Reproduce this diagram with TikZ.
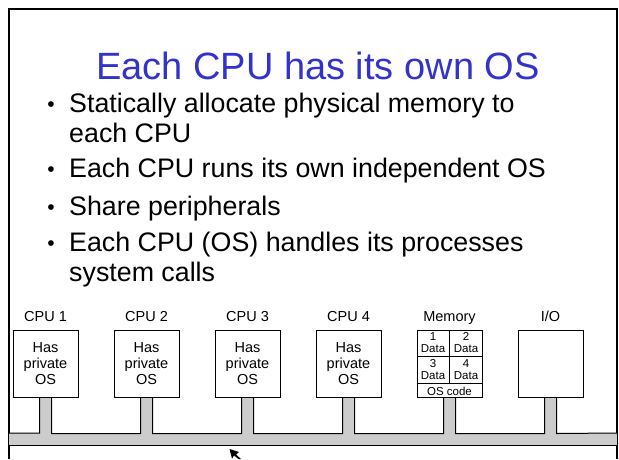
\documentclass[tikz,border=0pt]{standalone}
\usepackage{fontspec}
\setmainfont{Liberation Sans}
\usepackage{tikz}
\usetikzlibrary{positioning, calc}
\definecolor{titleblue}{RGB}{51,51,204}
\definecolor{busgray}{RGB}{204,204,204}

\begin{document}
\begin{tikzpicture}[x=1pt, y=-1pt, node distance=35pt,
  box/.style={draw, line width=1pt, minimum width=65pt, minimum height=67pt, inner sep=0pt, align=center, font=\fontsize{14.5}{16.3}\selectfont},
  lbl/.style={inner sep=0pt, text depth=0pt, font=\fontsize{14.5}{16.3}\selectfont},
  cell/.style={inner sep=0pt, align=center, font=\fontsize{11.5}{11.6}\selectfont},
  bul/.style={inner sep=0pt, align=left, font=\fontsize{26.8}{29.3}\selectfont},
  dot/.style={inner sep=0pt, font=\fontsize{21}{22}\selectfont}]
 \useasboundingbox (0,0) rectangle (619,459);
 \draw[line width=2pt] (9,459) |- (617,9) -- (617,459);
 % title and bullets (base = last line)
 \node[anchor=base, text=titleblue, inner sep=0pt, font=\fontsize{38}{40}\selectfont] (title) at (318,79.3) {Each CPU has its own OS};
 \node[bul, anchor=base west] (p1) at (69,142) {Statically allocate physical memory to\\each CPU};
 \node[bul, anchor=base west] (p2) at (69,177.7) {Each CPU runs its own independent OS};
 \node[bul, anchor=base west] (p3) at (69,215) {Share peripherals};
 \node[bul, anchor=base west] (p4) at (69,281) {Each CPU (OS) handles its processes\\system calls};
 \node[dot, anchor=base] (d1) at (51,111.7) {•};
 \node[dot, anchor=base] (d2) at (51,176.7) {•};
 \node[dot, anchor=base] (d3) at (51,214) {•};
 \node[dot, anchor=base] (d4) at (51,250.7) {•};
 % boxes on the bus
 \node[box] (cpu1) at (45.5,363.5) {Has\\private\\OS};
 \node[box, right=of cpu1] (cpu2) {Has\\private\\OS};
 \node[box, right=of cpu2] (cpu3) {Has\\private\\OS};
 \node[box, right=of cpu3] (cpu4) {Has\\private\\OS};
 \node[box, right=of cpu4] (mem) {};
 \node[box, right=of mem] (io) {};
 \node[lbl, above=7.7pt of cpu1] (cpu1l) {CPU 1};
 \node[lbl, above=7.7pt of cpu2] (cpu2l) {CPU 2};
 \node[lbl, above=7.7pt of cpu3] (cpu3l) {CPU 3};
 \node[lbl, above=7.7pt of cpu4] (cpu4l) {CPU 4};
 \node[lbl, above=7.7pt of mem] (meml) {Memory};
 \node[lbl, above=7.7pt of io] (iol) {I/O};
 % memory cells
 \draw[line width=1pt] (mem.north) -- ++(0,54)
   ($(mem.north west)+(0,27)$) -- ($(mem.north east)+(0,27)$)
   ($(mem.north west)+(0,54)$) -- ($(mem.north east)+(0,54)$);
 \node[cell] (c1) at ($(mem.north)+(-16.5,13)$) {1\\Data};
 \node[cell] (c2) at ($(mem.north)+(16.5,13)$) {2\\Data};
 \node[cell] (c3) at ($(mem.north)+(-16.5,40)$) {3\\Data};
 \node[cell] (c4) at ($(mem.north)+(16.5,40)$) {4\\Data};
 \node[cell] (osc) at ($(mem.south)+(0,-6.5)$) {OS code};
 % bus
 \fill[busgray] (9,433) rectangle (617,445);
 \fill[busgray] ([xshift=-6pt,yshift=-0.5pt]cpu1.south) rectangle ++(12,36.5)
   ([xshift=-6pt,yshift=-0.5pt]cpu2.south) rectangle ++(12,36.5)
   ([xshift=-6pt,yshift=-0.5pt]cpu3.south) rectangle ++(12,36.5)
   ([xshift=-6pt,yshift=-0.5pt]cpu4.south) rectangle ++(12,36.5)
   ([xshift=-6pt,yshift=-0.5pt]mem.south) rectangle ++(12,36.5)
   ([xshift=-6pt,yshift=-0.5pt]io.south) rectangle ++(12,36.5);
 \draw[line width=1pt] (9,433) -| ([xshift=-6pt]cpu1.south)
   ([xshift=6pt]cpu1.south) -- ++(0,36) -| ([xshift=-6pt]cpu2.south)
   ([xshift=6pt]cpu2.south) -- ++(0,36) -| ([xshift=-6pt]cpu3.south)
   ([xshift=6pt]cpu3.south) -- ++(0,36) -| ([xshift=-6pt]cpu4.south)
   ([xshift=6pt]cpu4.south) -- ++(0,36) -| ([xshift=-6pt]mem.south)
   ([xshift=6pt]mem.south) -- ++(0,36) -| ([xshift=-6pt]io.south)
   ([xshift=6pt]io.south) -- ++(0,36) -- (617,433);
 \draw[line width=1pt] (9,445) -- (617,445);
 % mouse pointer
 \fill (229.5,449) -- (239,452) -- (236,454.5) -- (241,459) -- (238.5,459) -- (234,455.5) -- (232,458.5) -- cycle;
\end{tikzpicture}
\end{document}
